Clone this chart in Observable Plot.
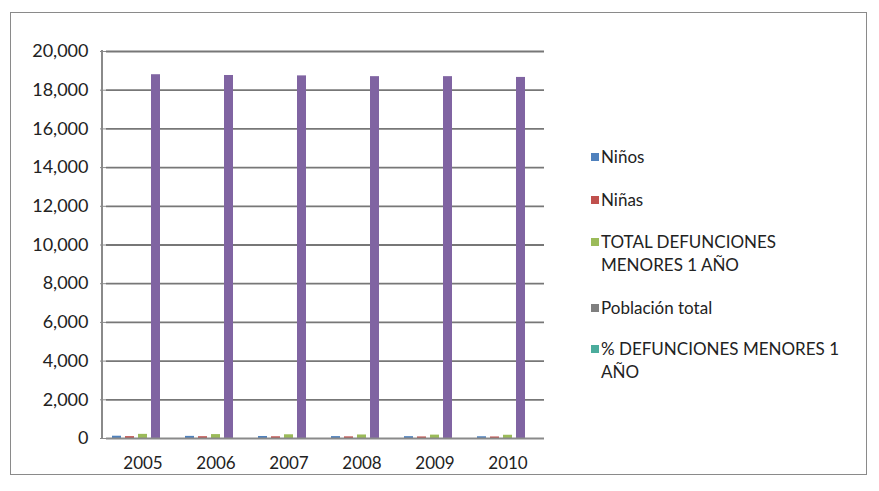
<!DOCTYPE html>
<html><head><meta charset="utf-8">
<script src="https://cdn.jsdelivr.net/npm/d3@7"></script>
<script src="https://cdn.jsdelivr.net/npm/@observablehq/plot@0.6"></script>
<style>
body{margin:0;background:#fff;font-family:Lato,"Open Sans",sans-serif;}
#box{position:absolute;left:10px;top:12px;width:857px;height:463px;border:1px solid #8a8a8a;box-sizing:border-box;}
#chart{position:absolute;left:0;top:0;}
#yline{position:absolute;left:90px;top:37px;width:2px;height:389px;background:#8a8a8a;}
#legend{position:absolute;left:580px;top:0;font-size:17px;color:#222;}
.item{position:absolute;left:0;white-space:nowrap;line-height:23px;}
.sw{position:absolute;left:0;top:8px;width:8px;height:8px;}
.lbl{position:absolute;left:10px;top:0;}
</style></head>
<body>
<div id="box"><div id="chart"></div><div id="yline"></div><div id="legend"></div></div>
<script>
const years = ["2005","2006","2007","2008","2009","2010"];
const seriesNames = ["Niños","Niñas","TOTAL DEFUNCIONES MENORES 1 AÑO","Población total","% DEFUNCIONES MENORES 1 AÑO"];
const ninos = [118, 110, 104, 98, 95, 90];
const ninas = [96, 92, 88, 84, 80, 78];
const totalDef = [214, 202, 192, 182, 175, 168];
const poblacion = [18800, 18760, 18740, 18700, 18700, 18660];
const pctDef = [1.1, 1.1, 1.0, 1.0, 0.9, 0.9];
const yTicks = [0, 2000, 4000, 6000, 8000, 10000, 12000, 14000, 16000, 18000, 20000];
const barColors = ["#4F81BD","#C0504D","#9BBB59","#8064A2","#4BAC9C"];
const legendColors = ["#4F81BD","#C0504D","#9BBB59","#7F7F7F","#4BAC9C"];
const legendLines = [["Niños"],["Niñas"],["TOTAL DEFUNCIONES","MENORES 1 AÑO"],["Población total"],["% DEFUNCIONES MENORES 1","AÑO"]];
const legendTops = [132, 175, 217, 283, 324];

const seriesValues = [ninos, ninas, totalDef, poblacion, pctDef];
const table = [];
years.forEach((y, i) => seriesNames.forEach((s, j) => table.push({year: y, series: s, value: seriesValues[j][i]})));
const fmt = d3.format(",");

const chart = Plot.plot({
  width: 560, height: 466,
  marginLeft: 92, marginRight: 25, marginTop: 38, marginBottom: 41,
  fx: {domain: years, label: null, padding: 0, axis: "bottom", tickSize: 0, tickPadding: 18},
  x: {domain: seriesNames, axis: null, paddingInner: 0.3, paddingOuter: 0.3},
  y: {domain: [0, 20000], label: null},
  color: {domain: seriesNames, range: barColors},
  style: {fontFamily: "Lato, 'Open Sans', sans-serif", fontSize: "17px", color: "#222", background: "transparent"},
  marks: [
    Plot.gridY(yTicks.slice(1), {stroke: "#777", strokeOpacity: 1, strokeWidth: 1.8}),
    Plot.axisY(yTicks, {tickFormat: fmt, tickSize: 6, stroke: "#8a8a8a", tickPadding: 12, fontSize: 18}),
    Plot.barY(table, {fx: "year", x: "series", y: "value", fill: "series"}),
    Plot.ruleY([0], {stroke: "#8a8a8a", strokeWidth: 1.8})
  ]
});
document.getElementById("chart").appendChild(chart);

const legend = document.getElementById("legend");
legendLines.forEach((lines, i) => {
  const it = document.createElement("div");
  it.className = "item";
  it.style.top = legendTops[i] + "px";
  const sw = document.createElement("div");
  sw.className = "sw"; sw.style.background = legendColors[i];
  const lb = document.createElement("div");
  lb.className = "lbl"; lb.innerHTML = lines.join("<br>");
  it.appendChild(sw); it.appendChild(lb);
  legend.appendChild(it);
});
</script>
</body></html>
